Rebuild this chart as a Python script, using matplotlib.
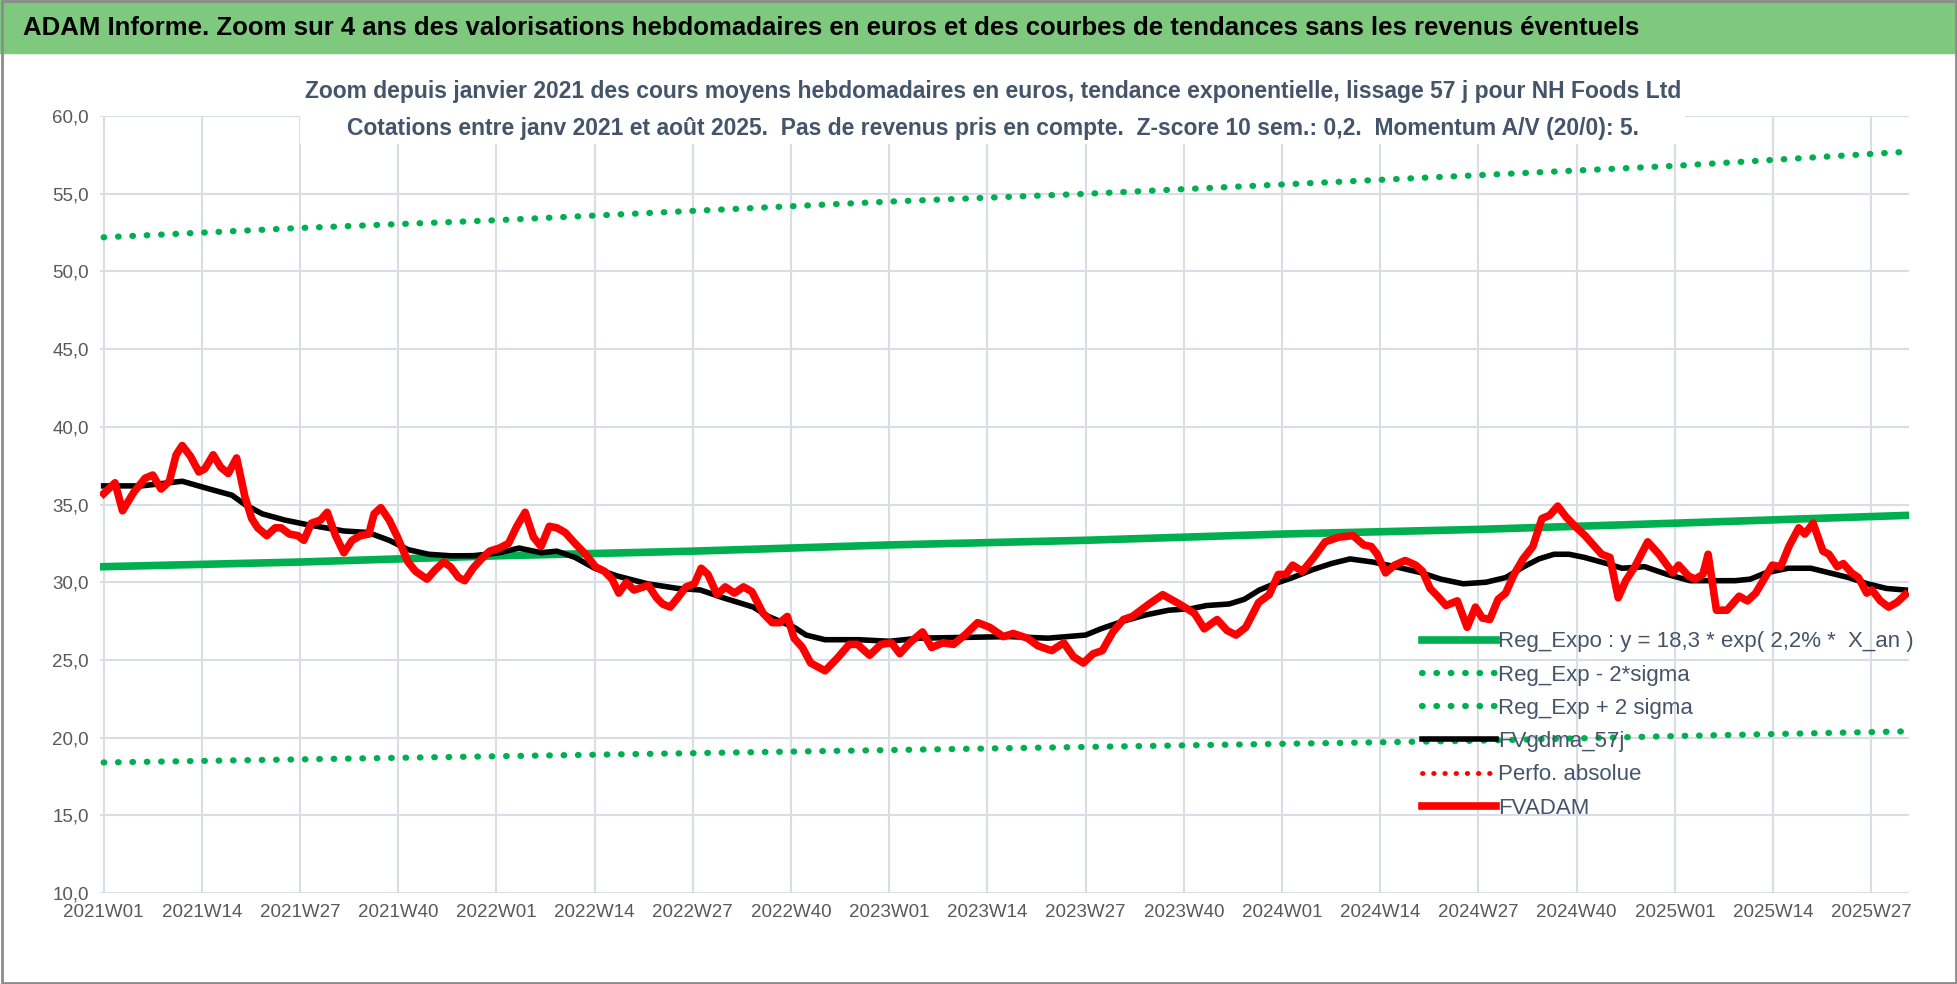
import matplotlib.pyplot as plt
from matplotlib.patches import Rectangle

plt.rcParams['font.family'] = ['Liberation Sans', 'DejaVu Sans']

# week index 0 = 2021W01
adam_w = [0, 1.5, 2.5, 4, 5.5, 6.5, 7.6, 8.7, 9.6, 10.4, 11.5, 12.6, 13.4, 14.5, 15.5, 16.5, 17.6,
          18.7, 19.6, 20.4, 21.6, 22.7, 23.5, 24.6, 25.7, 26.5, 27.5, 28.7, 29.6, 30.7, 31.8, 32.9,
          34, 35.1, 35.8, 36.7, 37.8, 38.9, 40.3, 41.3, 42.8, 43.9, 45, 45.9, 47, 47.8, 48.9, 50,
          51.1, 52.4, 53.6, 54.7, 55.8, 56.9, 57.9, 59, 60, 61.1, 62.4, 63.8, 65.1, 66.3, 67.3,
          68.2, 69.2, 70.2, 72.1, 73.2, 74, 75, 76, 77.1, 78.2, 79.1, 80, 81.2, 82.3, 83.5, 84.7,
          85.8, 87.3, 88.5, 89.5, 90.5, 91.4, 92.5, 93.6, 95.5, 97.1, 98.7, 99.8, 101.4, 102.9,
          104.3, 105.4, 106.7, 108.4, 109.6, 111.1, 112.5, 114, 115.7, 117.3, 119.1, 120.4, 122.3,
          123.7, 125.5, 127.1, 128.4, 129.7, 131, 132.2, 133.6, 135, 136.2, 138.4, 140.2, 142.4,
          144.4, 145.7, 147.4, 148.7, 149.9, 151.2, 152.9, 154.3, 155.5, 156.5, 157.4, 158.7,
          160.2, 161.7, 163.5, 165.4, 166.8, 167.8, 168.6, 169.7, 170.9, 172.3, 173.7, 174.6,
          175.6, 176.6, 177.7, 179.2, 180.5, 181.6, 182.5, 183.5, 184.6, 185.6, 186.7, 187.9,
          189.2, 190.4, 191.4, 192.5, 193.6, 195, 196.1, 197.2, 198.3, 199.4, 200.5, 201.5, 202.7,
          204.4, 205.9, 207.7, 208.5, 209.8, 210.7, 211.7, 212.4, 213.5, 214.9, 216.5, 217.6,
          218.7, 219.8, 220.9, 222, 223.1, 224.4, 225.2, 226.3, 227.6, 228.4, 229.5, 230.3, 231.4,
          232.3, 233.4, 234.1, 235.2, 236.3, 237.4, 238.5]
adam_v = [35.7, 36.4, 34.6, 35.8, 36.7, 36.9, 36.0, 36.5, 38.2, 38.8, 38.1, 37.1, 37.3, 38.2, 37.4,
          37.0, 38.0, 35.5, 34.1, 33.5, 33.0, 33.5, 33.5, 33.1, 33.0, 32.7, 33.8, 34.0, 34.5, 33.0,
          31.9, 32.7, 33.0, 33.1, 34.4, 34.8, 34.0, 32.9, 31.3, 30.7, 30.2, 30.8, 31.3, 31.0, 30.3,
          30.1, 30.9, 31.5, 32.0, 32.2, 32.5, 33.6, 34.5, 32.9, 32.3, 33.6, 33.5, 33.2, 32.5, 31.8,
          31.0, 30.7, 30.2, 29.3, 30.0, 29.5, 29.8, 29.0, 28.6, 28.4, 29.0, 29.7, 29.9, 30.9, 30.5,
          29.2, 29.7, 29.3, 29.7, 29.4, 28.0, 27.4, 27.4, 27.8, 26.4, 25.8, 24.8, 24.3, 25.1, 26.0,
          26.0, 25.3, 26.0, 26.1, 25.4, 26.1, 26.8, 25.8, 26.1, 26.0, 26.6, 27.4, 27.1, 26.5, 26.7,
          26.4, 25.9, 25.6, 26.1, 25.2, 24.8, 25.4, 25.6, 26.8, 27.6, 27.8, 28.6, 29.2, 28.6, 28.0,
          27.0, 27.6, 26.9, 26.6, 27.1, 28.7, 29.2, 30.5, 30.5, 31.1, 30.7, 31.6, 32.6, 32.9, 33.0,
          32.4, 32.3, 31.8, 30.6, 31.1, 31.4, 31.1, 30.7, 29.6, 29.1, 28.5, 28.8, 27.1, 28.4, 27.7,
          27.6, 28.9, 29.3, 30.5, 31.5, 32.3, 34.1, 34.3, 34.9, 34.2, 33.5, 33.0, 32.4, 31.8, 31.6,
          29.0, 30.1, 31.0, 32.6, 31.8, 30.6, 31.1, 30.4, 30.2, 30.5, 31.8, 28.2, 28.2, 29.1, 28.8,
          29.3, 30.2, 31.1, 31.0, 32.3, 33.5, 33.1, 33.8, 32.0, 31.8, 31.0, 31.2, 30.6, 30.3, 29.3,
          29.5, 28.8, 28.4, 28.7, 29.2]

gdma_w = [0, 5, 10.4, 14, 17, 18.7, 21, 24, 27, 31.8, 35, 37.8, 40.3, 43, 46, 49, 52.4, 55, 57.9,
          60, 62.4, 65, 68, 72, 76, 79, 82, 86, 88, 91.4, 93, 95.5, 100, 104, 108, 120, 125, 130,
          132, 135, 138, 141, 144, 146, 149, 151, 153, 155, 157.4, 160, 162.5, 165, 168, 171,
          174.5, 177, 180, 183, 185.6, 188, 190, 192, 194, 196, 199, 201, 204, 207, 210, 213, 216,
          218, 220, 223, 226, 228.5, 231, 233.5, 236, 238.5]
gdma_v = [36.2, 36.2, 36.5, 36.0, 35.6, 35.0, 34.4, 34.0, 33.7, 33.3, 33.2, 32.7, 32.1, 31.8, 31.7,
          31.7, 31.9, 32.2, 31.9, 32.0, 31.6, 30.9, 30.4, 29.9, 29.6, 29.5, 29.0, 28.4, 27.8, 27.1,
          26.6, 26.3, 26.3, 26.2, 26.4, 26.5, 26.4, 26.6, 27.0, 27.5, 27.9, 28.2, 28.3, 28.5, 28.6,
          28.9, 29.5, 29.9, 30.3, 30.8, 31.2, 31.5, 31.3, 31.0, 30.6, 30.2, 29.9, 30.0, 30.3, 31.0,
          31.5, 31.8, 31.8, 31.6, 31.2, 30.9, 31.0, 30.5, 30.1, 30.1, 30.1, 30.2, 30.6, 30.9, 30.9,
          30.6, 30.3, 29.9, 29.6, 29.5]

trend_w = [0, 26, 52, 78, 104, 130, 156, 182, 208, 238.5]
reg_expo = [31.0, 31.3, 31.7, 32.0, 32.4, 32.7, 33.1, 33.4, 33.8, 34.3]
reg_low = [18.4, 18.6, 18.8, 19.0, 19.2, 19.4, 19.6, 19.8, 20.1, 20.4]
reg_high = [52.2, 52.8, 53.3, 53.9, 54.5, 55.0, 55.6, 56.2, 56.8, 57.7]

tick_pos = list(range(0, 239, 13))
tick_lab = []
for t in tick_pos:
    tick_lab.append("%dW%02d" % (2021 + t // 52, t % 52 + 1))

fig = plt.figure(figsize=(19.58, 9.84), dpi=100)
fig.patches.append(Rectangle((0, 0.946), 1, 0.054, transform=fig.transFigure,
                             color='#7FC97F', zorder=0))
fig.patches.append(Rectangle((0.001, 0.001), 0.998, 0.998, transform=fig.transFigure,
                             fill=False, edgecolor='#8C8C8C', lw=2))
fig.text(0.012, 0.972, "ADAM Informe. Zoom sur 4 ans des valorisations hebdomadaires en euros et des courbes de tendances sans les revenus éventuels",
         fontsize=18.5, fontweight='bold', va='center', ha='left', color='black')

ax = fig.add_axes([0.051, 0.0925, 0.924, 0.7895])
dots = (0, (0.1, 2.2))
ax.plot(trend_w, reg_expo, color='#00B050', lw=5.5, label="Reg_Expo : y = 18,3 * exp( 2,2% *  X_an )")
ax.plot(trend_w, reg_low, color='#00B050', lw=4.5, ls=dots, dash_capstyle='round',
        label="Reg_Exp - 2*sigma")
ax.plot(trend_w, reg_high, color='#00B050', lw=4.5, ls=dots, dash_capstyle='round',
        label="Reg_Exp + 2 sigma")
ax.plot(gdma_w, gdma_v, color='black', lw=4, label="FVgdma_57j")
ax.plot([], [], color='#FF0000', lw=3.5, ls=dots, dash_capstyle='round',
        label="Perfo. absolue")
ax.plot(adam_w, adam_v, color='#FF0000', lw=5.5, label="FVADAM")

ax.set_xlim(-0.5, 239)
ax.set_ylim(10, 60)
ax.set_yticks(range(10, 61, 5))
ax.set_yticklabels(["%d,0" % v for v in range(10, 61, 5)])
ax.set_xticks(tick_pos)
ax.set_xticklabels(tick_lab)
ax.tick_params(labelsize=13.5, colors='#595959', length=0, pad=8)
ax.grid(True, color='#D9DEE6', lw=1.5)
ax.set_axisbelow(True)
for s in ax.spines.values():
    s.set_visible(False)

fig.text(0.507, 0.888, "Zoom depuis janvier 2021 des cours moyens hebdomadaires en euros, tendance exponentielle, lissage 57 j pour NH Foods Ltd\nCotations entre janv 2021 et août 2025.  Pas de revenus pris en compte.  Z-score 10 sem.: 0,2.  Momentum A/V (20/0): 5.",
         ha='center', va='center', fontsize=16.5, fontweight='bold',
         color='#44546A', linespacing=1.75,
         bbox=dict(facecolor='white', edgecolor='none', pad=3))

leg = ax.legend(loc='lower left', bbox_to_anchor=(0.72, 0.07), frameon=False, fontsize=16,
                handlelength=3.3, labelspacing=0.55, handletextpad=0.1)
for t in leg.get_texts():
    t.set_color('#44546A')

fig.savefig("out.png")
